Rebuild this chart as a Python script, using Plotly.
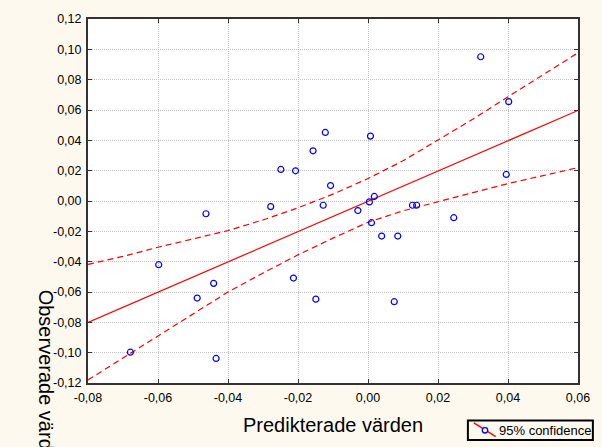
import plotly.graph_objects as go

# ---- data ----
pred_x = [0.0322, 0.0402, -0.0122, 0.0007, -0.0157, -0.0249, -0.0207, -0.0107,
          0.0395, 0.0018, 0.0004, -0.0278, -0.0128, -0.0029, 0.0127, 0.0139,
          -0.0463, 0.0245, 0.0010, 0.0039, 0.0085, -0.0598, -0.0213, -0.0441,
          -0.0488, -0.0149, 0.0075, -0.0679, -0.0434]
obs_y = [0.0951, 0.0655, 0.0452, 0.0428, 0.0331, 0.0208, 0.0199, 0.0102,
         0.0175, 0.0030, -0.0006, -0.0037, -0.0028, -0.0063, -0.0028, -0.0028,
         -0.0084, -0.0110, -0.0143, -0.0231, -0.0231, -0.0420, -0.0508, -0.0543,
         -0.0640, -0.0647, -0.0664, -0.0997, -0.1038]

fit_x = [-0.08, 0.06]
fit_y = [-0.0801, 0.0597]

band_x = [-0.08, -0.07, -0.06, -0.05, -0.04, -0.03, -0.02, -0.01, 0.0,
          0.01, 0.02, 0.03, 0.04, 0.05, 0.06]
band_upper = [-0.0418, -0.0365, -0.0305, -0.0250, -0.0195, -0.0125, -0.0045, 0.0045,
              0.0148, 0.0265, 0.0403, 0.0540, 0.0687, 0.0833, 0.0977]
band_lower = [-0.1180, -0.1035, -0.0890, -0.0750, -0.0600, -0.0475, -0.0355, -0.0245,
              -0.0140, -0.0065, -0.0005, 0.0060, 0.0115, 0.0167, 0.0220]

x_ticks = [-0.08, -0.06, -0.04, -0.02, 0.0, 0.02, 0.04, 0.06]
x_ticktext = ["-0,08", "-0,06", "-0,04", "-0,02", "0,00", "0,02", "0,04", "0,06"]
y_ticks = [-0.12, -0.10, -0.08, -0.06, -0.04, -0.02, 0.0, 0.02, 0.04, 0.06, 0.08, 0.10, 0.12]
y_ticktext = ["-0,12", "-0,10", "-0,08", "-0,06", "-0,04", "-0,02", "0,00",
              "0,02", "0,04", "0,06", "0,08", "0,10", "0,12"]

x_title = "Predikterade värden"
y_title = "Observerade värden"
legend_text = "95% confidence"

# ---- layout geometry ----
W, H = 602, 447
L, R, T, B = 88, 582, 13, 383
PW, PH = R - L, B - T


def px(xp):
    return (xp - L) / PW


def py(yp):
    return (B - yp) / PH


BG = "#FDF9EE"
FONT = "Liberation Sans, Arial, sans-serif"

fig = go.Figure()
fig.add_trace(go.Scatter(x=band_x, y=band_upper, mode="lines",
                         line=dict(color="#FF0000", width=1.2, dash="6px,4px"),
                         hoverinfo="skip"))
fig.add_trace(go.Scatter(x=band_x, y=band_lower, mode="lines",
                         line=dict(color="#FF0000", width=1.2, dash="6px,4px"),
                         hoverinfo="skip"))
fig.add_trace(go.Scatter(x=fit_x, y=fit_y, mode="lines",
                         line=dict(color="#FF0000", width=1.2)))
fig.add_trace(go.Scatter(x=pred_x, y=obs_y, mode="markers",
                         marker=dict(symbol="circle-open", size=6, color="#0000FF",
                                     line=dict(width=1.2, color="#0000FF"))))

axis_common = dict(
    showline=True, linecolor="#333333", linewidth=2, mirror="ticks",
    ticks="inside", ticklen=4, tickcolor="#333333", tickwidth=1,
    showgrid=True, gridcolor="#C4C4C4", griddash="1px,1px", gridwidth=1,
    zeroline=False, tickfont=dict(family=FONT, size=12.5, color="#000000"),
    ticklabelstandoff=2,
)

fig.update_layout(
    width=W, height=H,
    margin=dict(l=L, r=W - R, t=T, b=H - B, pad=0),
    paper_bgcolor=BG, plot_bgcolor="#FFFFFF",
    showlegend=False,
    xaxis=dict(range=[-0.08, 0.06], tickvals=x_ticks, ticktext=x_ticktext, **axis_common),
    yaxis=dict(range=[-0.12, 0.12], tickvals=y_ticks, ticktext=y_ticktext, **axis_common),
    font=dict(family=FONT),
)

annotations = [
    dict(text=x_title, xref="paper", yref="paper", x=px(335), y=py(426),
         xanchor="center", yanchor="middle", showarrow=False,
         font=dict(family=FONT, size=20, color="#000000")),
    dict(text=y_title, xref="paper", yref="paper", x=px(46), y=py(381),
         xanchor="center", yanchor="middle", showarrow=False, textangle=90,
         font=dict(family=FONT, size=20, color="#000000")),
    dict(text=legend_text, xref="paper", yref="paper", x=px(500), y=py(431),
         xanchor="left", yanchor="middle", showarrow=False,
         font=dict(family=FONT, size=13, color="#000000")),
]
fig.update_layout(annotations=annotations)

shapes = [
    dict(type="rect", xref="paper", yref="paper", x0=px(471), x1=px(597),
         y0=py(441), y1=py(421), line=dict(color="#000000", width=2), fillcolor=BG),
    dict(type="line", xref="paper", yref="paper", x0=px(477), y0=py(423.5),
         x1=px(499), y1=py(437.5), line=dict(color="#FF0000", width=1.3)),
    dict(type="circle", xref="paper", yref="paper", x0=px(485.5), x1=px(491),
         y0=py(433.8), y1=py(428.3), line=dict(color="#0000FF", width=1.3),
         fillcolor=BG),
]
fig.update_layout(shapes=shapes)

fig.write_html(
    "out.html",
    config={"displayModeBar": False},
    post_script="document.body.style.margin='0';document.body.style.padding='0';"
                "document.body.style.overflow='hidden';"
                "document.body.style.background='" + BG + "';",
)
